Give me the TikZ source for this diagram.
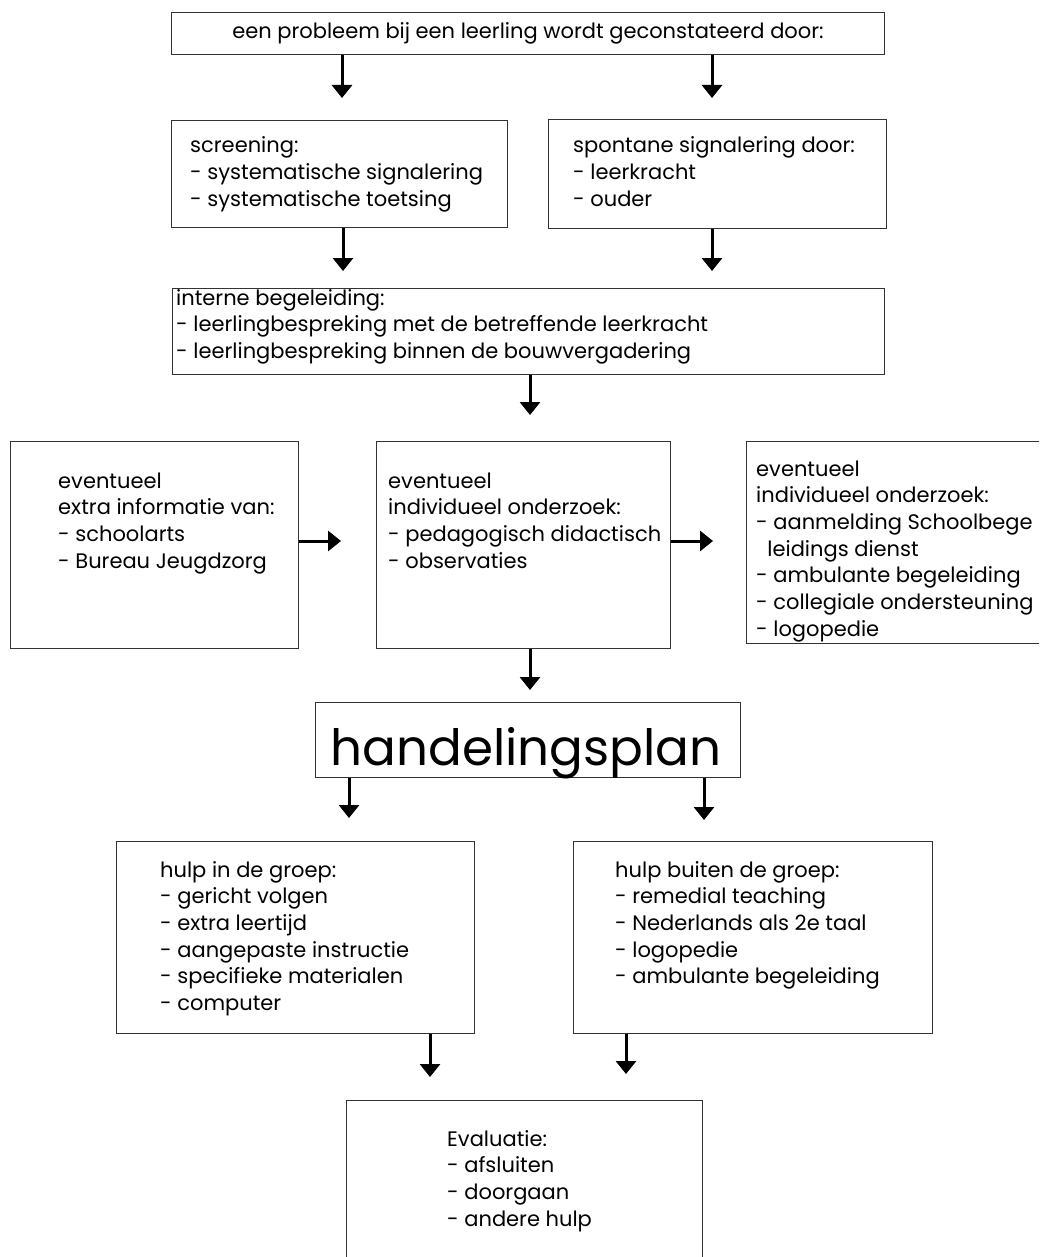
\documentclass[tikz,border=0pt]{standalone}
\usepackage{fontspec}
\setmainfont{Poppins}
\usetikzlibrary{arrows.meta}
\newcommand\boxlines[1]{\begin{tabular}[t]{@{}l@{}}#1\end{tabular}}
\tikzset{
  box/.style={draw=black!80, line width=1.4pt, rectangle, inner sep=0pt},
  txt/.style={inner sep=0pt, anchor=base west, font=\fontsize{21}{26.7}\selectfont},
  arr/.style={line width=3pt, -{Triangle[width=20pt,length=13pt]}},
}
\begin{document}
\begin{tikzpicture}[x=1pt,y=-1pt]
\clip (0,0) rectangle (1039,1257);
\fill[white] (0,0) rectangle (1039,1257);
% boxes
\node[box, minimum width=713pt, minimum height=42pt, anchor=north west] (top) at (171,12) {};
\node[box, minimum width=336pt, minimum height=107pt, anchor=north west] (scr) at (171,120) {};
\node[box, minimum width=338pt, minimum height=109pt, anchor=north west] (spo) at (548,119) {};
\node[box, minimum width=712pt, minimum height=86pt, anchor=north west] (int) at (172,288) {};
\node[box, minimum width=288pt, minimum height=207pt, anchor=north west] (lft) at (10,441) {};
\node[box, minimum width=294pt, minimum height=207pt, anchor=north west] (mid) at (376,441) {};
\node[box, minimum width=320pt, minimum height=202pt, anchor=north west] (rgt) at (746,441) {};
\node[box, minimum width=425pt, minimum height=75pt, anchor=north west] (hp) at (315,702) {};
\node[box, minimum width=358pt, minimum height=192pt, anchor=north west] (hin) at (116,841) {};
\node[box, minimum width=359pt, minimum height=192pt, anchor=north west] (hbu) at (573,841) {};
\node[box, minimum width=356pt, minimum height=180pt, anchor=north west] (eva) at (346,1100) {};
% texts
\node[txt, anchor=base] (ttop) at (528,39) {een probleem bij een leerling wordt geconstateerd door:};
\node[txt] (tscr) at (190,153) {\boxlines{screening:\\- systematische signalering\\- systematische toetsing}};
\node[txt] (tspo) at (573,153) {\boxlines{spontane signalering door:\\- leerkracht\\- ouder}};
\node[txt] (tint) at (176,305) {\boxlines{interne begeleiding:\\- leerlingbespreking met de betreffende leerkracht\\- leerlingbespreking binnen de bouwvergadering}};
\node[txt] (tlft) at (58,488) {\boxlines{eventueel\\extra informatie van:\\- schoolarts\\- Bureau Jeugdzorg}};
\node[txt] (tmid) at (388,488) {\boxlines{eventueel\\individueel onderzoek:\\- pedagogisch didactisch\\- observaties}};
\node[txt] (trgt) at (756,476) {\boxlines{eventueel\\individueel onderzoek:\\- aanmelding Schoolbege\\\ \ leidings dienst\\- ambulante begeleiding\\- collegiale ondersteuning\\- logopedie}};
\node[inner sep=0pt, anchor=base, font=\fontsize{50}{60}\selectfont] (thp) at (526,765) {handelingsplan};
\node[txt] (thin) at (160,877) {\boxlines{hulp in de groep:\\- gericht volgen\\- extra leertijd\\- aangepaste instructie\\- specifieke materialen\\- computer}};
\node[txt] (thbu) at (615,877) {\boxlines{hulp buiten de groep:\\- remedial teaching\\- Nederlands als 2e taal\\- logopedie\\- ambulante begeleiding}};
\node[txt] (teva) at (447,1146) {\boxlines{Evaluatie:\\- afsluiten\\- doorgaan\\- andere hulp}};
% arrow tips
\coordinate (c1) at (342,98);
\coordinate (c2) at (712,98);
\coordinate (c3) at (343,271);
\coordinate (c4) at (712,271);
\coordinate (c5) at (530,415);
\coordinate (c6) at (341,541);
\coordinate (c7) at (713,541);
\coordinate (c8) at (530,690);
\coordinate (c9) at (349,818);
\coordinate (c10) at (704,820);
\coordinate (c11) at (430,1077);
\coordinate (c12) at (626,1074);
\draw[arr] (top.south -| c1) -- (c1);
\draw[arr] (top.south -| c2) -- (c2);
\draw[arr] (scr.south -| c3) -- (c3);
\draw[arr] (spo.south -| c4) -- (c4);
\draw[arr] (int.south -| c5) -- (c5);
\draw[arr] (lft.east |- c6) -- (c6);
\draw[arr] (mid.east |- c7) -- (c7);
\draw[arr] (mid.south -| c8) -- (c8);
\draw[arr] (hp.south -| c9) -- (c9);
\draw[arr] (hp.south -| c10) -- (c10);
\draw[arr] (hin.south -| c11) -- (c11);
\draw[arr] (hbu.south -| c12) -- (c12);
\end{tikzpicture}
\end{document}
